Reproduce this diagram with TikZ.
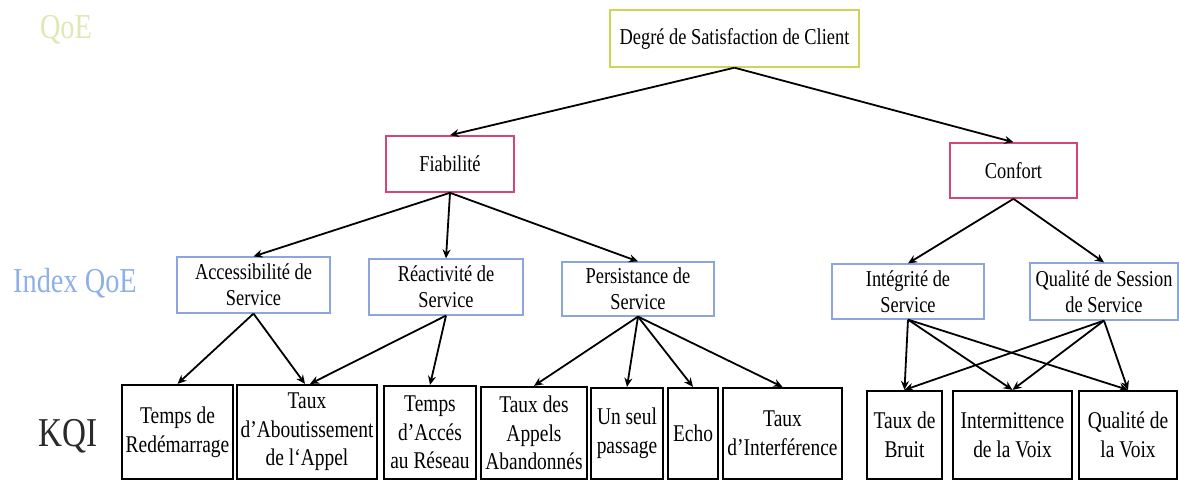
\documentclass[tikz,border=0pt]{standalone}
\usepackage{fontspec}
\setmainfont[FakeStretch=0.81]{Liberation Serif}
\usetikzlibrary{arrows.meta}
\definecolor{topline}{HTML}{CFD35A}
\definecolor{midline}{HTML}{D4457A}
\definecolor{idxline}{HTML}{8CA6DD}
\definecolor{qoetxt}{HTML}{E0E6B4}
\definecolor{idxtxt}{HTML}{8DB0E8}
\definecolor{kqitxt}{HTML}{2A2A2A}
\begin{document}
\begin{tikzpicture}[x=0.5pt,y=-0.5pt,
  sz/.style 2 args={minimum width=#1*0.5pt, minimum height=#2*0.5pt},
  box/.style={draw, rectangle, inner sep=0pt, align=center},
  topbox/.style={box, draw=topline, line width=0.7pt, font=\fontsize{11.35}{13}\selectfont},
  midbox/.style={box, draw=midline, line width=0.8pt, font=\fontsize{11.35}{13}\selectfont},
  idxbox/.style={box, draw=idxline, line width=0.6pt, font=\fontsize{11.35}{13}\selectfont},
  kqibox/.style={box, draw=black, line width=1.1pt, font=\fontsize{12}{14.3}\selectfont},
  biglabel/.style={anchor=base, inner sep=0pt},
  arr/.style={-{Stealth[length=4.5pt,width=4pt]}, line width=0.9pt, draw=black}
]
\useasboundingbox (0,0) rectangle (1179,483);

% level labels on the left
\node[biglabel, text=qoetxt, font=\fontsize{17.5}{20}\selectfont] (lqoe) at (66,38) {QoE};
\node[biglabel, text=idxtxt, font=\fontsize{17.5}{20}\selectfont] (lidx) at (75,292) {Index QoE};
\node[biglabel, text=kqitxt, font=\fontsize{20.5}{24}\selectfont] (lkqi) at (68,446) {KQI};

% top of the hierarchy
\node[topbox, sz={249}{57}] (dsc) at (734.5,38.5) {Degré de Satisfaction de Client};
\node[midbox, sz={128}{56}] (fia) at (450,164) {Fiabilité};
\node[midbox, sz={127}{55}] (con) at (1013.5,170.5) {Confort};

% QoE indexes
\node[idxbox, sz={153}{56}] (acc) at (253.5,285) {Accessibilité de\\Service};
\node[idxbox, sz={154}{56}] (rea) at (446,287) {Réactivité de\\Service};
\node[idxbox, sz={152}{54}] (per) at (638,289) {Persistance de\\Service};
\node[idxbox, sz={152}{55}] (int) at (908,291.5) {Intégrité de\\Service};
\node[idxbox, sz={148}{57}] (qss) at (1104,291.5) {Qualité de Session\\de Service};

% key quality indicators
\node[kqibox, sz={111}{94}] (k1) at (177.5,432) {Temps de\\Redémarrage};
\node[kqibox, sz={140}{94}] (k2) at (307,432) {Taux\\d’Aboutissement\\de l‘Appel};
\node[kqibox, sz={92}{93}] (k3) at (430,432.5) {Temps\\d’Accés\\au Réseau};
\node[kqibox, sz={106}{92}] (k4) at (534,433) {Taux des\\Appels\\Abandonnés};
\node[kqibox, sz={72}{91}] (k5) at (627,433.5) {Un seul\\passage};
\node[kqibox, sz={50}{91}] (k6) at (693,433.5) {Echo};
\node[kqibox, sz={119}{91}] (k7) at (782.5,433.5) {Taux\\d’Interférence};
\node[kqibox, sz={75}{88}] (k8) at (904.5,435) {Taux de\\Bruit};
\node[kqibox, sz={119}{88}] (k9) at (1012.5,435) {Intermittence\\de la Voix};
\node[kqibox, sz={98}{88}] (k10) at (1128,435) {Qualité de\\la Voix};

% connectors
\draw[arr] (dsc.south) -- (fia.north);
\draw[arr] (dsc.south) -- (con.north);
\draw[arr] (fia.south) -- (acc.north);
\draw[arr] (fia.south) -- (rea.north);
\draw[arr] (fia.south) -- (per.north);
\draw[arr] (con.south) -- (int.north);
\draw[arr] (con.south) -- (qss.north);

\draw[arr] (acc.south) -- (k1.north);
\draw[arr] (acc.south) -- ([xshift=-1pt]k2.north);
\draw[arr] (rea.south) -- ([xshift=1.5pt]k2.north);
\draw[arr] (rea.south) -- (k3.north);

\draw[arr] (per.south) -- (k4.north);
\draw[arr] (per.south) -- (k5.north);
\draw[arr] (per.south) -- (k6.north);
\draw[arr] (per.south) -- (k7.north);

\draw[arr] (int.south) -- (k8.north);
\draw[arr] (int.south) -- (k9.north);
\draw[arr] (int.south) -- (k10.north);
\draw[arr] (qss.south) -- (k8.north);
\draw[arr] (qss.south) -- (k9.north);
\draw[arr] (qss.south) -- (k10.north);
\end{tikzpicture}
\end{document}
